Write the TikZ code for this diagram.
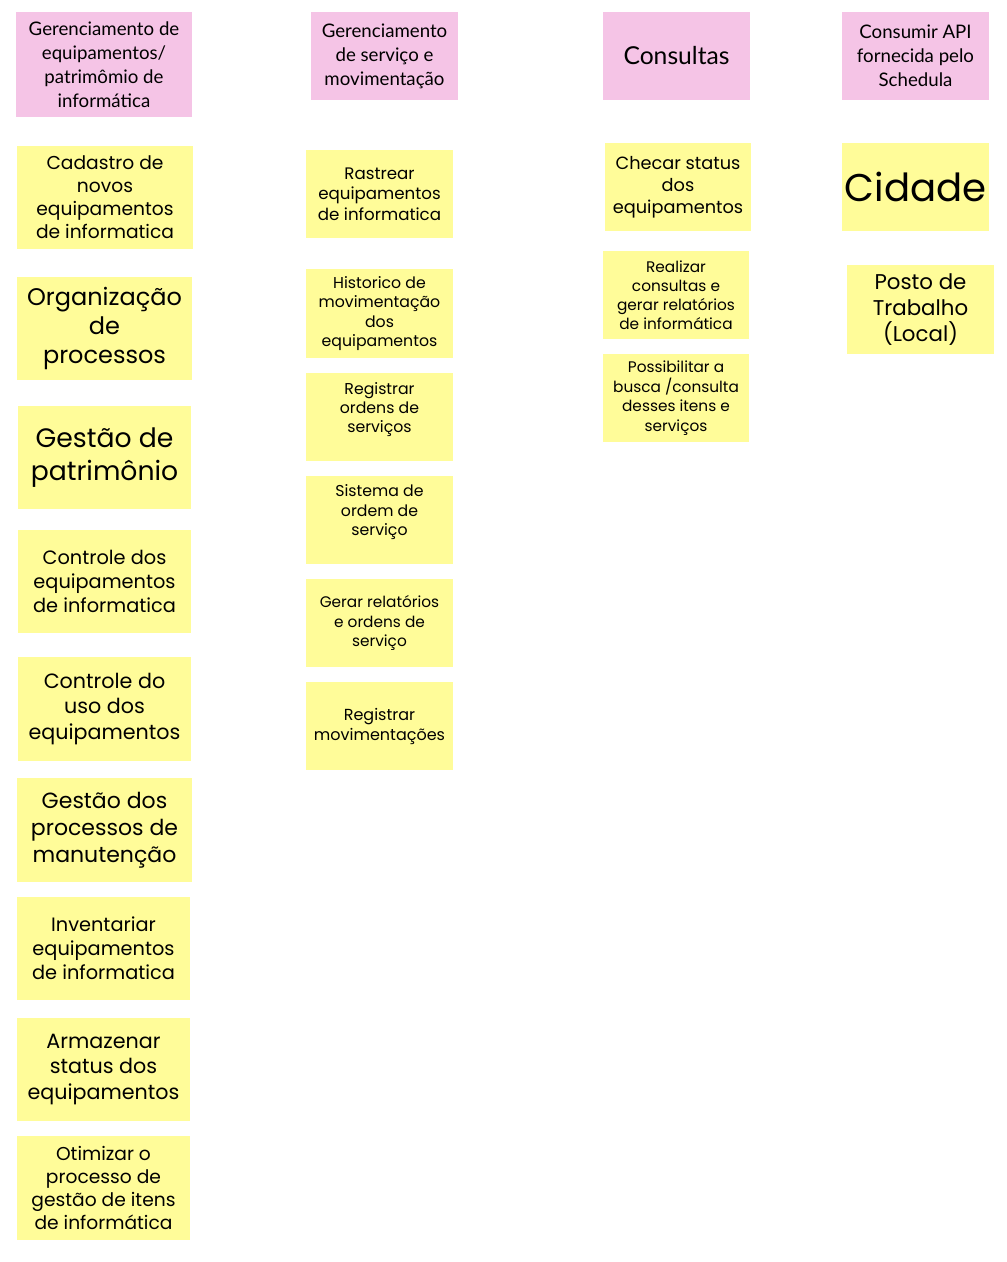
\documentclass[tikz,border=0pt]{standalone}
\usepackage{fontspec}
\setmainfont{Lato}
\newfontfamily\handfont{Poppins}
\usepackage{xcolor}
\usepackage{tikz}
\definecolor{headerpink}{HTML}{F5C4E6}
\definecolor{noteyellow}{HTML}{FFFC99}
\newcommand{\hand}[2]{\handfont\fontsize{#1}{#2}\selectfont}
\newcommand{\head}[2]{\fontsize{#1}{#2}\selectfont}

\begin{document}
\begin{tikzpicture}[x=0.75pt,y=-0.75pt]
        \tikzstyle{header}=[fill=headerpink, inner sep=0pt, align=center, minimum width=110pt, minimum height=66pt];
        \tikzstyle{sticky}=[fill=noteyellow, inner sep=0pt, align=center];
        \tikzstyle{bignote}=[sticky, minimum width=131pt, minimum height=77.5pt];
        \tikzstyle{smallnote}=[sticky, minimum width=110pt, minimum height=66pt];
        % Define the page of the board
        \useasboundingbox[fill=white] (0,0) rectangle (1006,1262);

        % Draw the column headers
        \node[header, minimum width=132pt, minimum height=78.75pt, font=\head{14}{18}] (hdrEquip) at (104,64.5)
            {Gerenciamento de\\equipamentos/\\patrimômio de\\informática};
        \node[header, font=\head{14}{18}] (hdrServico) at (384.5,56)
            {Gerenciamento\\de serviço e\\movimentação};
        \node[header, font=\head{18.5}{22}] (hdrConsultas) at (676.5,56)
            {Consultas};
        \node[header, font=\head{14}{18}] (hdrApi) at (915.5,56)
            {Consumir API\\fornecida pelo\\Schedula};

        % Draw the notes of the first column
        \node[bignote, minimum width=132pt, font=\hand{14}{17.25}] (cadastro) at (105,197.5)
            {Cadastro de\\novos\\equipamentos\\de informatica};
        \node[bignote, font=\hand{18}{21.75}] (organizacao) at (104.5,328.5)
            {Organização\\de\\processos};
        \node[bignote, minimum width=130pt, font=\hand{20}{24.75}] (gestaoPatrim) at (104.5,457.5)
            {Gestão de\\patrimônio};
        \node[bignote, minimum width=130pt, font=\hand{14.5}{18}] (controleEquip) at (104.5,581.5)
            {Controle dos\\equipamentos\\de informatica};
        \node[bignote, minimum width=130pt, font=\hand{15.5}{19.1}] (controleUso) at (104.5,709)
            {Controle do\\uso dos\\equipamentos};
        \node[bignote, font=\hand{16.5}{20.25}] (gestaoManut) at (104.5,830)
            {Gestão dos\\processos de\\manutenção};
        \node[bignote, minimum width=130pt, font=\hand{14.5}{18}] (inventariar) at (103.5,948.5)
            {Inventariar\\equipamentos\\de informatica};
        \node[bignote, minimum width=130pt, font=\hand{15.5}{19.1}] (armazenar) at (103.5,1069.5)
            {Armazenar\\status dos\\equipamentos};
        \node[bignote, minimum width=130pt, font=\hand{14}{17.25}] (otimizar) at (103.5,1188)
            {Otimizar o\\processo de\\gestão de itens\\de informática};

        % Draw the notes of the second column
        \node[smallnote, font=\hand{12.5}{15.4}] (rastrear) at (379.5,194)
            {Rastrear\\equipamentos\\de informatica};
        \node[smallnote, font=\hand{11.8}{14.6}] (historico) at (379.5,313.5)
            {Historico de\\movimentação\\dos\\equipamentos};
        \node[smallnote, font=\hand{11.8}{14.25}] (registrarOrdens) at (379.5,417)
            {Registrar\\ordens de\\serviços\\~};
        \node[smallnote, font=\hand{11.8}{14.6}] (sistemaOrdem) at (379.5,520)
            {Sistema de\\ordem de\\serviço\\~};
        \node[smallnote, font=\hand{11.5}{14.6}] (gerarRelat) at (379.5,623)
            {Gerar relatórios\\e ordens de\\serviço};
        \node[smallnote, font=\hand{12}{15}] (registrarMov) at (379.5,726)
            {Registrar\\movimentações};

        % Draw the notes of the third column
        \node[smallnote, font=\hand{13.3}{16.5}] (checar) at (678,187)
            {Checar status\\dos\\equipamentos};
        \node[smallnote, font=\hand{11.5}{14.25}] (realizar) at (676,295)
            {Realizar\\consultas e\\gerar relatórios\\de informática};
        \node[smallnote, font=\hand{11.5}{14.6}] (possibilitar) at (676,398)
            {Possibilitar a\\busca /consulta\\desses itens e\\serviços};

        % Draw the notes of the fourth column
        \node[smallnote, font=\hand{29}{34}] (cidade) at (915.5,187)
            {Cidade};
        \node[smallnote, font=\hand{16}{19.5}] (posto) at (920.5,309.5)
            {Posto de\\Trabalho\\(Local)};
    \end{tikzpicture}
\end{document}
